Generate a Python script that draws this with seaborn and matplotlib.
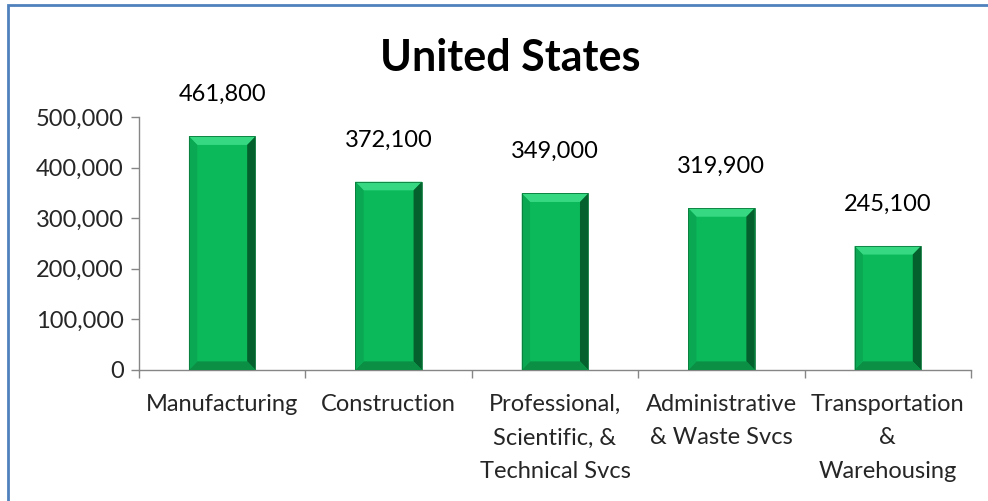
import numpy as np
import pandas as pd
import matplotlib
matplotlib.use("Agg")
import matplotlib.pyplot as plt
import seaborn as sns
from matplotlib.patches import Polygon, Rectangle
from matplotlib.ticker import FuncFormatter, FixedLocator

# data
industries = ["Manufacturing", "Construction",
              "Professional,\nScientific, &\nTechnical Svcs",
              "Administrative\n& Waste Svcs",
              "Transportation\n&\nWarehousing"]
jobs = [461800, 372100, 349000, 319900, 245100]
yticks = [0, 100000, 200000, 300000, 400000, 500000]

df = pd.DataFrame({"industry": industries, "jobs": jobs})

sns.set_style("white")
plt.rcParams["font.family"] = ["Lato", "DejaVu Sans"]

fig = plt.figure(figsize=(9.88, 5.01), dpi=100)
ax = fig.add_axes([0.1407, 0.2615, 0.8421, 0.505])

green = "#0CB95A"
sns.barplot(data=df, x="industry", y="jobs", color=green, width=0.4,
            saturation=1, ax=ax, edgecolor="none")

ax.set_ylim(0, 500000)
ax.set_xlim(-0.5, len(industries) - 0.5)

# bevel look on each bar
bx = 0.05
by = 17000
for p in ax.patches:
    x0, y0 = p.get_x(), p.get_y()
    x1, y1 = x0 + p.get_width(), y0 + p.get_height()
    faces = [
        ([(x0, y1), (x1, y1), (x1 - bx, y1 - by), (x0 + bx, y1 - by)], "#36D982"),
        ([(x1, y1), (x1, y0), (x1 - bx, y0 + by), (x1 - bx, y1 - by)], "#04602C"),
        ([(x0, y0), (x1, y0), (x1 - bx, y0 + by), (x0 + bx, y0 + by)], "#0A8F45"),
        ([(x0, y0), (x0, y1), (x0 + bx, y1 - by), (x0 + bx, y0 + by)], "#0AA852"),
    ]
    for pts, c in faces:
        ax.add_patch(Polygon(pts, closed=True, facecolor=c, edgecolor="none", zorder=3))
    ax.add_patch(Rectangle((x0, y0), x1 - x0, y1 - y0, fill=False,
                           edgecolor="#0B7A3C", linewidth=0.6, zorder=4))

# value labels
for i, v in enumerate(jobs):
    ax.annotate(f"{v:,}", (i, v), xytext=(0, 30), textcoords="offset points",
                ha="center", va="center", fontsize=17, color="black")

ax.yaxis.set_major_locator(FixedLocator(yticks))
ax.yaxis.set_major_formatter(FuncFormatter(lambda v, p: f"{int(v):,}"))
ax.tick_params(axis="y", which="major", length=6, width=1, color="#868686",
               labelsize=17, pad=5, left=True, direction="out")

ax.set_xticks(range(len(industries)))
ax.set_xticklabels(industries, fontsize=17, linespacing=1.75)
ax.set_xticks(np.arange(-0.5, len(industries), 1.0), minor=True)
ax.tick_params(axis="x", which="major", length=0, pad=17)
ax.tick_params(axis="x", which="minor", length=6, width=1, color="#868686",
               bottom=True, direction="out")

for s in ["top", "right"]:
    ax.spines[s].set_visible(False)
for s in ["left", "bottom"]:
    ax.spines[s].set_color("#868686")
    ax.spines[s].set_linewidth(1)

ax.set_xlabel("")
ax.set_ylabel("")

fig.text(0.516, 0.885, "United States", ha="center", va="center",
         fontsize=31, fontweight="bold", color="black")

# outer frame (top and left edges visible)
fig.add_artist(Rectangle((8 / 988, -0.1), 1.2, 1 - 5 / 501 + 0.1,
                         transform=fig.transFigure, fill=False,
                         edgecolor="#4F81BD", linewidth=2))

fig.savefig("out.png", dpi=100)
